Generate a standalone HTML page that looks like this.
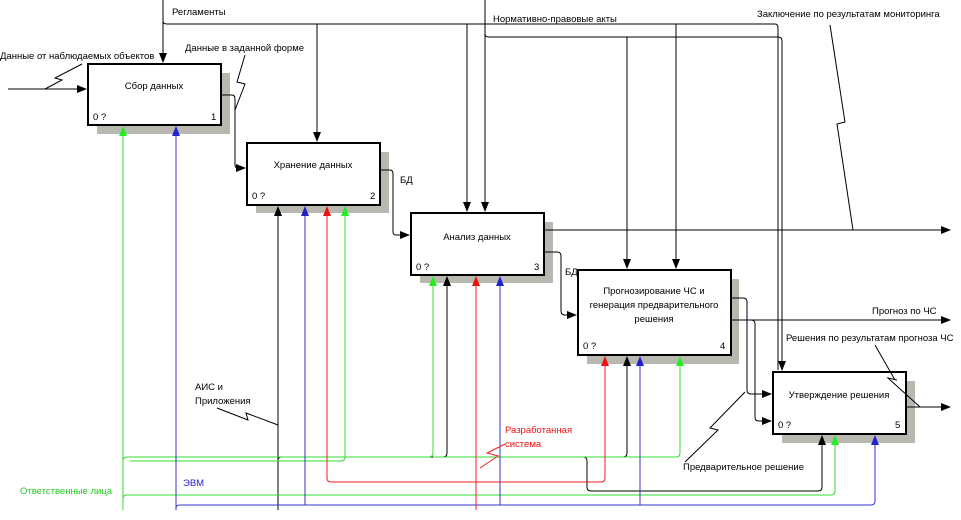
<!DOCTYPE html>
<html><head><meta charset="utf-8"><style>
html,body{margin:0;padding:0;background:#fff;}
svg{display:block;font-family:"Liberation Sans",sans-serif;font-size:9.5px;}
</style></head><body>
<svg width="961" height="520" viewBox="0 0 961 520" xmlns="http://www.w3.org/2000/svg">
<defs>
<marker id="ak" markerWidth="10" markerHeight="8" refX="9" refY="4" orient="auto" markerUnits="userSpaceOnUse"><path d="M0,0L10,4L0,8z" fill="#000"/></marker>
<marker id="ag" markerWidth="10" markerHeight="8" refX="9" refY="4" orient="auto" markerUnits="userSpaceOnUse"><path d="M0,0L10,4L0,8z" fill="#2e2"/></marker>
<marker id="ab" markerWidth="10" markerHeight="8" refX="9" refY="4" orient="auto" markerUnits="userSpaceOnUse"><path d="M0,0L10,4L0,8z" fill="#22c"/></marker>
<marker id="ar" markerWidth="10" markerHeight="8" refX="9" refY="4" orient="auto" markerUnits="userSpaceOnUse"><path d="M0,0L10,4L0,8z" fill="#e11"/></marker>
</defs>
<g fill="#b8b8b0">
<rect x="97" y="73" width="133" height="61"/>
<rect x="256" y="152" width="133" height="61"/>
<rect x="420" y="222" width="133" height="61"/>
<rect x="587" y="279" width="152" height="85"/>
<rect x="782" y="381" width="133" height="62"/>
</g>
<g fill="#fff" stroke="#000" stroke-width="2">
<rect x="88" y="64" width="133" height="61"/>
<rect x="247" y="143" width="133" height="62"/>
<rect x="411" y="213" width="133" height="62"/>
<rect x="578" y="270" width="153" height="85"/>
<rect x="773" y="372" width="133" height="62"/>
</g>
<g fill="#000">
<text x="154" y="89" text-anchor="middle">Сбор данных</text>
<text x="313" y="168" text-anchor="middle">Хранение данных</text>
<text x="477" y="240" text-anchor="middle">Анализ данных</text>
<text x="654" y="294" text-anchor="middle">Прогнозирование ЧС и</text>
<text x="654" y="308" text-anchor="middle">генерация предварительного</text>
<text x="654" y="322" text-anchor="middle">решения</text>
<text x="839" y="398" text-anchor="middle">Утверждение решения</text>
<text x="93" y="120">0 ?</text><text x="211" y="120">1</text>
<text x="252" y="199">0 ?</text><text x="370" y="199">2</text>
<text x="416" y="270">0 ?</text><text x="534" y="270">3</text>
<text x="583" y="349">0 ?</text><text x="720" y="349">4</text>
<text x="778" y="428">0 ?</text><text x="895" y="428">5</text>
<text x="172" y="15">Регламенты</text>
<text x="0" y="59">Данные от наблюдаемых объектов</text>
<text x="185" y="51">Данные в заданной форме</text>
<text x="493" y="22">Нормативно-правовые акты</text>
<text x="757" y="17">Заключение по результатам мониторинга</text>
<text x="400" y="183">БД</text>
<text x="565" y="275">БД</text>
<text x="872" y="314">Прогноз по ЧС</text>
<text x="786" y="341">Решения по результатам прогноза ЧС</text>
<text x="683" y="470">Предварительное решение</text>
<text x="195" y="390">АИС и</text>
<text x="195" y="404">Приложения</text>
</g>
<text x="505" y="433" fill="#e11">Разработанная</text>
<text x="505" y="447" fill="#e11">система</text>
<text x="183" y="486" fill="#22c">ЭВМ</text>
<text x="20" y="494" fill="#2c2">Ответственные лица</text>
<g fill="none" stroke="#000" stroke-width="1">
<path d="M163,0V62" marker-end="url(#ak)"/>
<path d="M163,21Q163,24 167,24H775Q778,24 778,28V370" />
<path d="M317,24V141" marker-end="url(#ak)"/>
<path d="M467,24V211" marker-end="url(#ak)"/>
<path d="M676,24V268" marker-end="url(#ak)"/>
<path d="M485,0V211" marker-end="url(#ak)"/>
<path d="M485,34Q485,37 489,37H778Q782,37 782,41V370" marker-end="url(#ak)"/>
<path d="M627,37V268" marker-end="url(#ak)"/>
<path d="M8,89H86" marker-end="url(#ak)"/>
<path d="M45,89L62,80L55,78L82,64"/>
<path d="M221,95H232Q235,95 235,99V165Q235,168 238,168H245" marker-end="url(#ak)"/>
<path d="M235,110L245,84L237,82L245,55"/>
<path d="M380,170H390Q393,170 393,174V232Q393,235 396,235H409" marker-end="url(#ak)"/>
<path d="M544,230H950" marker-end="url(#ak)"/>
<path d="M830,25L845,122L837,124L853,230"/>
<path d="M544,252H557Q561,252 561,256V311Q561,315 565,315H576" marker-end="url(#ak)"/>
<path d="M731,298H743Q747,298 747,302V390Q747,394 751,394H771" marker-end="url(#ak)"/>
<path d="M731,320H950" marker-end="url(#ak)"/>
<path d="M751,320Q755,320 755,324V417Q755,421 759,421H771" marker-end="url(#ak)"/>
<path d="M906,407H950" marker-end="url(#ak)"/>
<path d="M875,345L895,380M897,380L888,378L920,407"/>
<path d="M685,462L718,430L710,428L745,392"/>
<path d="M217,408L248,420L246,413L278,425"/>
<path d="M278,510V207" marker-end="url(#ak)"/>
<path d="M278,460Q278,457 282,457H443Q447,457 447,453V277" marker-end="url(#ak)"/>
<path d="M447,457H623Q627,457 627,453V357" marker-end="url(#ak)"/>
<path d="M583,457Q587,457 587,461V487Q587,491 591,491H818Q822,491 822,487V436" marker-end="url(#ak)"/>
</g>
<g fill="none" stroke="#3d3" stroke-width="1">
<path d="M123,510V127" marker-end="url(#ag)"/>
<path d="M123,461Q123,457 127,457H429Q433,457 433,453V277" marker-end="url(#ag)"/>
<path d="M130,461H341Q345,461 345,457V207" marker-end="url(#ag)"/>
<path d="M433,457H676Q680,457 680,453V357" marker-end="url(#ag)"/>
<path d="M123,499Q123,495 127,495H831Q835,495 835,491V436" marker-end="url(#ag)"/>
</g>
<g fill="none" stroke="#33c" stroke-width="1">
<path d="M176,510V127" marker-end="url(#ab)"/>
<path d="M176,508Q176,505 180,505H871Q875,505 875,501V436" marker-end="url(#ab)"/>
<path d="M305,505V207" marker-end="url(#ab)"/>
<path d="M500,505V277" marker-end="url(#ab)"/>
<path d="M640,505V357" marker-end="url(#ab)"/>
</g>
<g fill="none" stroke="#e22" stroke-width="1">
<path d="M327,478V207" marker-end="url(#ar)"/>
<path d="M327,478Q327,482 331,482H601Q605,482 605,478V357" marker-end="url(#ar)"/>
<path d="M476,510V277" marker-end="url(#ar)"/>
</g>
<path d="M480,468L498,456L487,453L505,444" fill="none" stroke="#e22" stroke-width="1"/>
</svg>
</body></html>
